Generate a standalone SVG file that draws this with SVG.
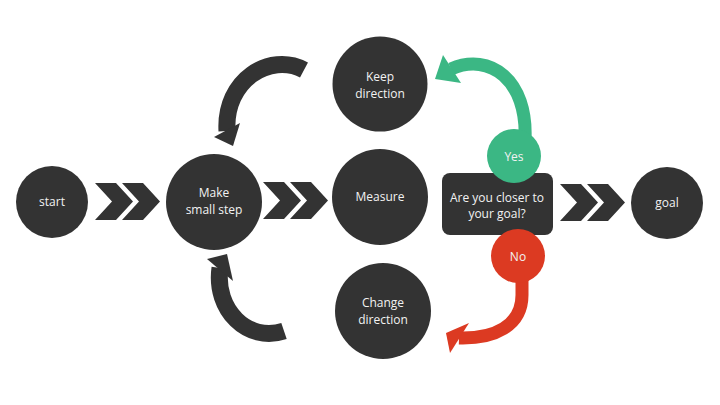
<svg xmlns="http://www.w3.org/2000/svg" width="720" height="405" viewBox="0 0 720 405">
  <defs>
    <style>
      .node { fill: #333333; }
      .lbl { fill: #f2f2f2; font-family: "Open Sans", "Noto Sans", sans-serif; font-size: 12px; text-anchor: middle; }
      .arc-dark { fill: none; stroke: #333333; stroke-width: 17; stroke-linecap: butt; }
      .arc-green { fill: none; stroke: #3bb784; stroke-width: 13; stroke-linecap: butt; }
      .arc-red { fill: none; stroke: #dc3a22; stroke-width: 13; stroke-linecap: butt; }
      .chev { fill: #333333; }
    </style>
    <path id="dblchev" d="M0,0 L21,0 L38,18.5 L21,37 L0,37 L17,18.5 Z M27,0 L48,0 L65,18.5 L48,37 L27,37 L44,18.5 Z"/>
  </defs>

  <rect width="720" height="405" fill="#ffffff"/>

  <g id="connectors">
    <use href="#dblchev" class="chev" transform="translate(95,183)"/>
    <use href="#dblchev" class="chev" transform="translate(263,182)"/>
    <use href="#dblchev" class="chev" transform="translate(560,184)"/>

    <!-- top-left loop arrow -->
    <path class="arc-dark" d="M304,70 C270,52 224,80 227,131"/>
    <polygon fill="#333333" points="214,137 240,123 233,146"/>

    <!-- bottom-left loop arrow -->
    <path class="arc-dark" d="M284,331 C248,343 214,310 220,268"/>
    <polygon fill="#333333" points="207,259 227,254 233,281"/>

    <!-- yes arrow -->
    <path class="arc-green" d="M525,140 C528,80 490,52 451,69"/>
    <polygon fill="#3bb784" points="443,55 461,83 435,79"/>

    <!-- no arrow -->
    <path class="arc-red" d="M522,270 L522,295 C522,326 494,339 459,338"/>
    <polygon fill="#dc3a22" points="469,323 450,353 446,333"/>
  </g>

  <g id="start">
    <circle class="node" cx="52" cy="202" r="36"/>
    <text class="lbl" x="52" y="206">start</text>
  </g>

  <g id="make-small-step">
    <circle class="node" cx="214" cy="202" r="48"/>
    <text class="lbl" x="214" y="197">Make</text>
    <text class="lbl" x="214" y="214">small step</text>
  </g>

  <g id="measure">
    <circle class="node" cx="380" cy="197" r="48"/>
    <text class="lbl" x="380" y="201">Measure</text>
  </g>

  <g id="keep-direction">
    <circle class="node" cx="380" cy="84" r="47.5"/>
    <text class="lbl" x="380" y="81">Keep</text>
    <text class="lbl" x="380" y="98">direction</text>
  </g>

  <g id="change-direction">
    <circle class="node" cx="383" cy="311" r="48"/>
    <text class="lbl" x="383" y="307">Change</text>
    <text class="lbl" x="383" y="324">direction</text>
  </g>

  <g id="decision">
    <rect class="node" x="442" y="173" width="111" height="62" rx="8"/>
    <text class="lbl" x="497" y="202">Are you closer to</text>
    <text class="lbl" x="497" y="218">your goal?</text>
  </g>

  <g id="yes">
    <circle fill="#3bb784" cx="514" cy="156" r="27"/>
    <text class="lbl" x="514" y="161">Yes</text>
  </g>

  <g id="no">
    <circle fill="#dc3a22" cx="518" cy="256" r="27"/>
    <text class="lbl" x="518" y="261">No</text>
  </g>

  <g id="goal">
    <circle class="node" cx="667" cy="203" r="36"/>
    <text class="lbl" x="667" y="207">goal</text>
  </g>
</svg>
